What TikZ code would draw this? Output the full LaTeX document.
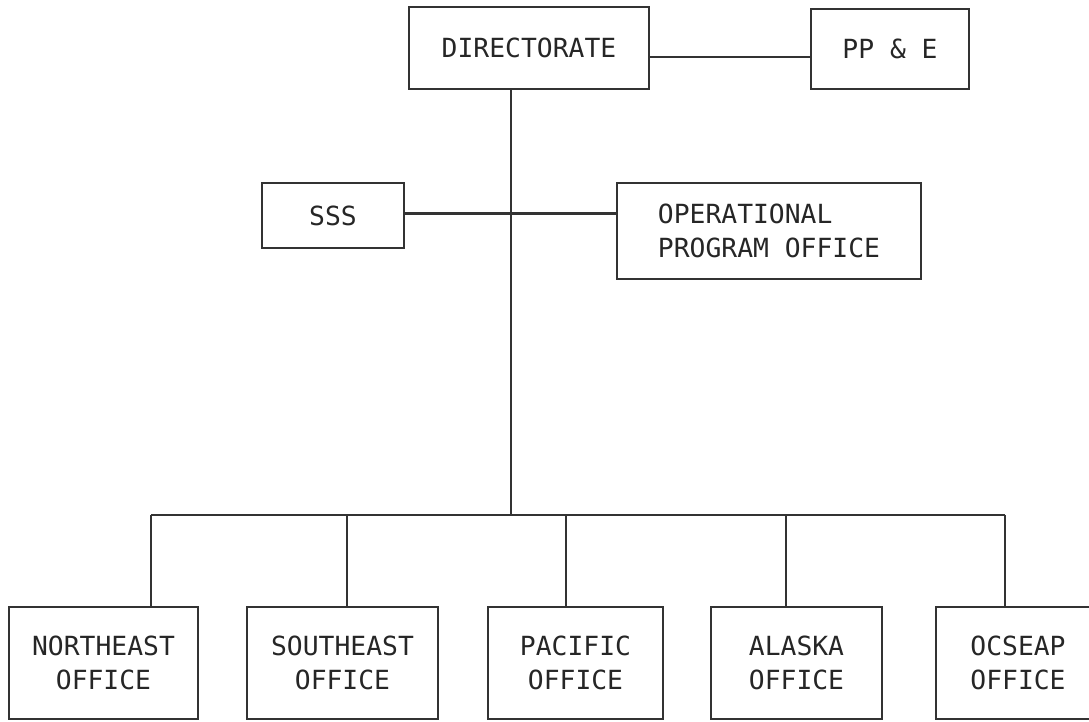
\documentclass[tikz,border=0pt]{standalone}
\usepackage{fontspec}
\setmonofont{DejaVu Sans Mono}
\usetikzlibrary{calc}

\begin{document}
\begin{tikzpicture}[x=0.02cm, y=-0.02cm,
  unit/.style={draw=black!80, line width=1.3pt, inner sep=0pt, align=center,
    text=black!85, font=\ttfamily\fontsize{15}{19.5}\selectfont},
  link/.style={draw=black!80, line width=1.2pt}]
\useasboundingbox (0,0) rectangle (1089,722);

% top row
\node[unit, minimum width=4.8cm, minimum height=1.64cm] (dir) at (529,48) {DIRECTORATE};
\node[unit, minimum width=3.16cm, minimum height=1.6cm] (ppe) at (890,49) {PP \& E};
\coordinate (d1) at ($(dir.east)+(0,9)$);
\draw[link] (d1) -- (d1 -| ppe.west);

% staff units
\node[unit, minimum width=2.84cm, minimum height=1.3cm] (sss) at (333,215.5) {SSS};
\node[unit, minimum width=6.08cm, minimum height=1.92cm, align=left] (opo) at (769,231) {OPERATIONAL\\PROGRAM OFFICE};
\coordinate (s1) at ($(sss.east)+(0,-2)$);
\draw[link] (s1) -- (s1 -| opo.west);

% field offices
\node[unit, minimum width=3.78cm, minimum height=2.24cm] (ne) at (103.5,663) {NORTHEAST\\OFFICE};
\node[unit, minimum width=3.82cm, minimum height=2.24cm] (se) at (342.5,663) {SOUTHEAST\\OFFICE};
\node[unit, minimum width=3.5cm, minimum height=2.24cm] (pac) at (575.5,663) {PACIFIC\\OFFICE};
\node[unit, minimum width=3.42cm, minimum height=2.24cm] (ak) at (796.5,663) {ALASKA\\OFFICE};
\node[unit, minimum width=3.28cm, minimum height=2.24cm] (oc) at (1018,663) {OCSEAP\\OFFICE};

\coordinate (hub) at (511,515);
\coordinate (b1) at (151,515);
\coordinate (b2) at (347,515);
\coordinate (b3) at (566,515);
\coordinate (b4) at (786,515);
\coordinate (b5) at (1005,515);

\draw[link] (dir.south -| hub) -- (hub);
\draw[link] (b1) -- (b5);
\foreach \b/\o in {b1/ne, b2/se, b3/pac, b4/ak, b5/oc}
  \draw[link] (\b) -- (\b |- \o.north);
\end{tikzpicture}
\end{document}
